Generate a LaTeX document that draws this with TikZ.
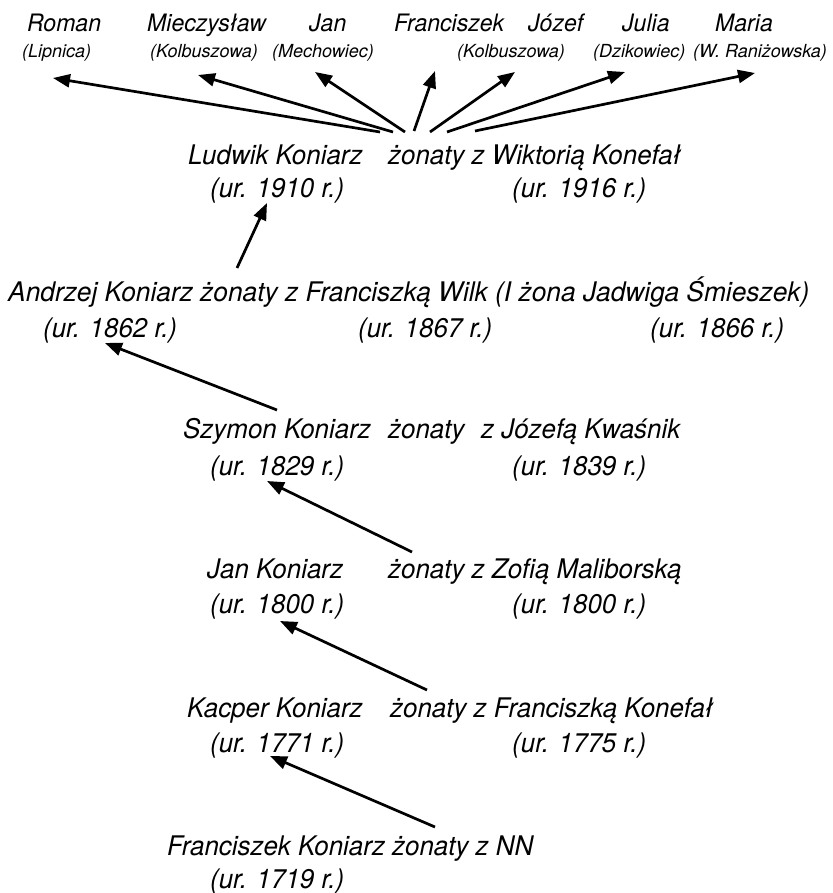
\documentclass[tikz,border=0pt]{standalone}
\usepackage{fontspec}
\setmainfont{TeX Gyre Heros}
\newfontfamily\narrowheros[FakeStretch=0.96]{TeX Gyre Heros}
\newfontfamily\wideheros[FakeStretch=0.975]{TeX Gyre Heros}
\usetikzlibrary{arrows.meta}
\begin{document}
\begin{tikzpicture}[x=1pt,y=-1pt,
  txt/.style={anchor=base west,inner sep=0pt,font=\narrowheros\itshape\fontsize{27}{31}\selectfont},
  longtxt/.style={txt,font=\wideheros\itshape\fontsize{27}{31}\selectfont},
  child/.style={anchor=base west,inner sep=0pt,font=\narrowheros\itshape\fontsize{24}{28}\selectfont},
  place/.style={anchor=base west,inner sep=0pt,font=\itshape\fontsize{18}{21}\selectfont},
  link/.style={line width=2.7pt,-{Triangle[length=17pt,width=13pt]}}]
\useasboundingbox (0,0) rectangle (832,893);

% children of Ludwik
\node[child] (roman) at (27,32) {Roman};
\node[child] (miecz) at (147,32) {Mieczysław};
\node[child] (jan2) at (309,32) {Jan};
\node[child] (fran2) at (394,32) {Franciszek};
\node[child] (jozef) at (528,32) {Józef};
\node[child] (julia) at (622,32) {Julia};
\node[child] (maria) at (715,32) {Maria};
\node[place] (pRoman) at (22,58) {(Lipnica)};
\node[place] (pMiecz) at (150,58) {(Kolbuszowa)};
\node[place] (pJan) at (272,58) {(Mechowiec)};
\node[place] (pJozef) at (457,58) {(Kolbuszowa)};
\node[place] (pJulia) at (593,58) {(Dzikowiec)};
\node[place] (pMaria) at (693,58) {(W. Raniżowska)};

% generations
\node[txt] (ludwik) at (188,165) {Ludwik Koniarz};
\node[txt] (ludwikW) at (388,165) {żonaty z Wiktorią Konefał};
\node[txt] (ludwikB) at (210,198) {(ur. 1910 r.)};
\node[txt] (ludwikWB) at (512,198) {(ur. 1916 r.)};

\node[longtxt] (andrzej) at (8,301) {Andrzej Koniarz żonaty z Franciszką Wilk (I żona Jadwiga Śmieszek)};
\node[txt] (andrzejB) at (43,337) {(ur. 1862 r.)};
\node[txt] (andrzejWB) at (358,337) {(ur. 1867 r.)};
\node[txt] (andrzejW1B) at (650,337) {(ur. 1866 r.)};

\node[txt] (szymon) at (183,438) {Szymon Koniarz};
\node[txt] (szymonW) at (388,438) {żonaty\hspace{0.35em} z Józefą Kwaśnik};
\node[txt] (szymonB) at (210,475) {(ur. 1829 r.)};
\node[txt] (szymonWB) at (512,475) {(ur. 1839 r.)};

\node[txt] (jan) at (207,578) {Jan Koniarz};
\node[txt] (janW) at (388,578) {żonaty z Zofią Maliborską};
\node[txt] (janB) at (210,613) {(ur. 1800 r.)};
\node[txt] (janWB) at (512,613) {(ur. 1800 r.)};

\node[txt] (kacper) at (187,717) {Kacper Koniarz};
\node[txt] (kacperW) at (390,717) {żonaty z Franciszką Konefał};
\node[txt] (kacperB) at (210,752) {(ur. 1771 r.)};
\node[txt] (kacperWB) at (512,752) {(ur. 1775 r.)};

\node[txt] (franciszek) at (167,855) {Franciszek Koniarz żonaty z NN};
\node[txt] (franciszekB) at (210,888) {(ur. 1719 r.)};

% arrow ends
\coordinate (tRoman) at (53,78);
\coordinate (tMiecz) at (198,75);
\coordinate (tJan) at (315,72);
\coordinate (tFran) at (435,71);
\coordinate (tJozef) at (515,72);
\coordinate (tJulia) at (625,72);
\coordinate (tMaria) at (755,73);
\coordinate (sRoman) at (380,132);
\coordinate (sMiecz) at (393,132);
\coordinate (sJan) at (405,132);
\coordinate (sFran) at (414,131);
\coordinate (sJozef) at (430,132);
\coordinate (sJulia) at (447,132);
\coordinate (sMaria) at (475,131);

\coordinate (tLudwik) at (267,203);
\coordinate (sAndrzej) at (237,268);
\coordinate (tAndrzej) at (105,343);
\coordinate (sSzymon) at (277,410);
\coordinate (tSzymon) at (267,481);
\coordinate (sJan1) at (412,552);
\coordinate (tJan1) at (280,621);
\coordinate (sKacper) at (427,690);
\coordinate (tKacper) at (270,756);
\coordinate (sFranciszek) at (435,827);

% descent arrows
\draw[link] (sRoman) -- (tRoman);
\draw[link] (sMiecz) -- (tMiecz);
\draw[link] (sJan) -- (tJan);
\draw[link] (sFran) -- (tFran);
\draw[link] (sJozef) -- (tJozef);
\draw[link] (sJulia) -- (tJulia);
\draw[link] (sMaria) -- (tMaria);
\draw[link] (sAndrzej) -- (tLudwik);
\draw[link] (sSzymon) -- (tAndrzej);
\draw[link] (sJan1) -- (tSzymon);
\draw[link] (sKacper) -- (tJan1);
\draw[link] (sFranciszek) -- (tKacper);
\end{tikzpicture}
\end{document}
